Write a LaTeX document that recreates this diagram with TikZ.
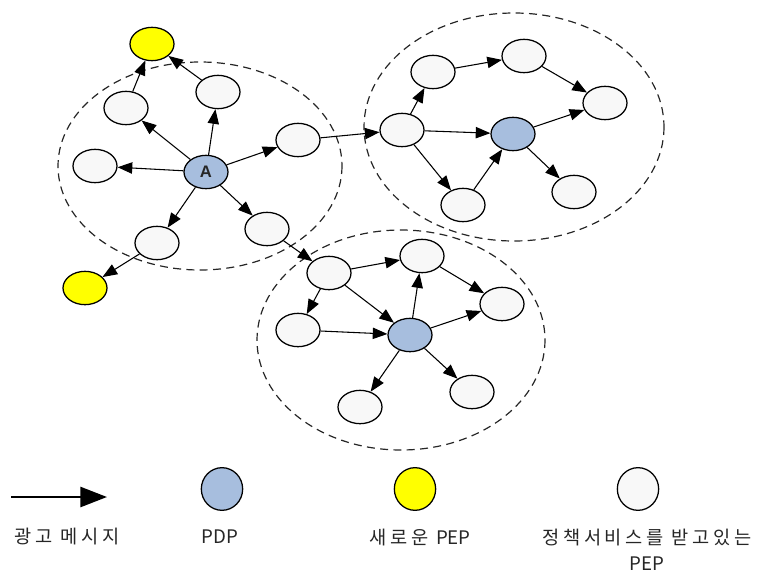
\documentclass[tikz,border=0pt]{standalone}
\usepackage{fontspec}
\setmainfont{Liberation Sans}
\newfontfamily\kr{Noto Sans CJK KR}[LetterSpace=20]
\newfontfamily\krn{Noto Sans CJK KR}
\usetikzlibrary{arrows.meta,shapes.geometric}
\definecolor{pepfill}{HTML}{F8F8F8}
\definecolor{pdpfill}{HTML}{A7BEDE}
\definecolor{newfill}{HTML}{FFFF00}
\begin{document}
\begin{tikzpicture}[x=0.75pt,y=-0.75pt,
  nd/.style={ellipse,draw=black,line width=0.95pt,minimum width=33pt,minimum height=25pt,inner sep=0pt},
  pep/.style={nd,fill=pepfill},
  pdp/.style={nd,fill=pdpfill},
  newpep/.style={nd,fill=newfill},
  msg/.style={line width=0.8pt,-{Triangle[length=11pt,width=8.5pt]}},
  zone/.style={draw=black!85,line width=0.9pt,dash pattern=on 6pt off 4pt},
  lg/.style={ellipse,draw=black,line width=0.95pt,minimum width=31pt,minimum height=32pt,inner sep=0pt},
  lbl/.style={font=\kr\fontsize{14}{19.5}\selectfont,text=black!85,inner sep=0pt,align=center}]
\useasboundingbox (0,0) rectangle (781,575);
% zones
\draw[zone] (200,166) ellipse [x radius=142,y radius=104];
\draw[zone] (514,127) ellipse [x radius=150,y radius=114];
\draw[zone] (401,340) ellipse [x radius=144,y radius=110];
% cluster 1
\node[pdp,font=\bfseries\fontsize{12.5}{14}\selectfont,text=black!85] (A) at (206,172) {A};
\node[newpep] (y1) at (152,44) {};
\node[newpep] (y2) at (85,288) {};
\node[pep] (n1) at (126,108) {};
\node[pep] (n2) at (218,92) {};
\node[pep] (n3) at (95,166) {};
\node[pep] (n4) at (298,140) {};
\node[pep] (n5) at (157,243) {};
\node[pep] (n6) at (267,229) {};
% cluster 2
\node[pep] (b1) at (402,130) {};
\node[pep] (b2) at (433,72) {};
\node[pep] (b3) at (524,56) {};
\node[pep] (b4) at (605,103) {};
\node[pdp] (P2) at (513,134) {};
\node[pep] (b5) at (463,205) {};
\node[pep] (b6) at (574,192) {};
% cluster 3
\node[pep] (c1) at (329,273) {};
\node[pep] (c2) at (422,256) {};
\node[pep] (c3) at (502,304) {};
\node[pdp] (P3) at (410,335) {};
\node[pep] (c4) at (298,330) {};
\node[pep] (c5) at (360,407) {};
\node[pep] (c6) at (472,392) {};
% edges cluster 1
\foreach \t in {n1,n2,n3,n4,n5,n6} \draw[msg] (A) -- (\t);
\draw[msg] (n1) -- (y1);
\draw[msg] (n2) -- (y1);
\draw[msg] (n5) -- (y2);
\draw[msg] (n4) -- (b1);
\draw[msg] (n6) -- (c1);
% edges cluster 2
\draw[msg] (b1) -- (b2);
\draw[msg] (b2) -- (b3);
\draw[msg] (b3) -- (b4);
\draw[msg] (b1) -- (P2);
\draw[msg] (P2) -- (b4);
\draw[msg] (b1) -- (b5);
\draw[msg] (b5) -- (P2);
\draw[msg] (P2) -- (b6);
% edges cluster 3
\draw[msg] (c1) -- (c2);
\draw[msg] (c1) -- (P3);
\draw[msg] (c1) -- (c4);
\draw[msg] (c4) -- (P3);
\draw[msg] (P3) -- (c2);
\draw[msg] (c2) -- (c3);
\draw[msg] (P3) -- (c3);
\draw[msg] (P3) -- (c5);
\draw[msg] (P3) -- (c6);
% legend
\coordinate (la) at (11,497);
\coordinate (lb) at (107,497);
\draw[line width=2pt,-{Triangle[length=20pt,width=15pt]}] (la) -- (lb);
\node[lg,fill=pdpfill] (lpdp) at (222,489) {};
\node[lg,fill=newfill] (lnew) at (415,489) {};
\node[lg,fill=pepfill] (lpep) at (638,489) {};
\node[lbl] (t1) at (67,537) {광고 메시지};
\node[lbl] (t2) at (220,537) {\krn PDP};
\node[lbl] (t3) at (420,537) {새로운 {\krn PEP}};
\node[lbl] (t4) at (647,550) {정책서비스를 받고있는\\{\krn PEP}};
\end{tikzpicture}
\end{document}
